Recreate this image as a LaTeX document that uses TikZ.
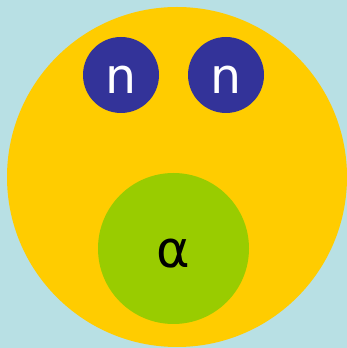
\documentclass[tikz,border=0pt]{standalone}
\usepackage{fontspec}
\setmainfont{DejaVu Sans}
\definecolor{sky}{HTML}{B8E0E4}
\definecolor{nucleus}{HTML}{FFCC00}
\definecolor{neutron}{HTML}{333399}
\definecolor{alphagreen}{HTML}{99CC00}
\begin{document}
\begin{tikzpicture}[x=1pt,y=1pt,line join=round,line cap=round,
	ball/.style={circle,inner sep=0pt,draw=none,text height=38pt,text depth=0pt},
	neutronball/.style={ball,fill=neutron,text=white,minimum size=76pt,font=\fontsize{49}{49}\selectfont},
	alphaball/.style={ball,fill=alphagreen,text=black,minimum size=151pt,font=\fontsize{51}{51}\selectfont}]
	\useasboundingbox (0,0) rectangle (347,348);
	\clip (0,0) rectangle (347,348);
	\fill[sky] (0,0) rectangle (347,348);
	\node[ball,fill=nucleus,minimum size=340pt] (nucleus) at (177,171) {};
	\node[neutronball] (n1) at (121,273) {n};
	\node[neutronball] (n2) at (226,273) {n};
	\node[alphaball] (alpha) at (173.5,99.5) {α};
\end{tikzpicture}
\end{document}
